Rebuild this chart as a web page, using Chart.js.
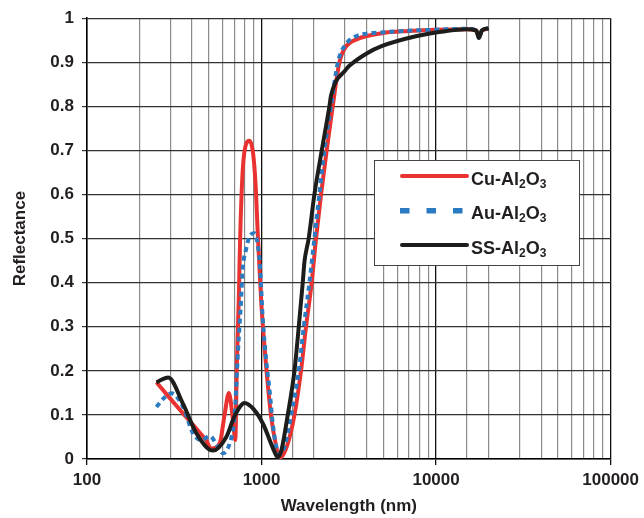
<!DOCTYPE html>
<html>
<head>
<meta charset="utf-8">
<script src="https://cdn.jsdelivr.net/npm/chart.js@4.4.0/dist/chart.umd.min.js"></script>
<style>
  body { margin: 0; background: #fff; }
  #wrap { width: 644px; height: 518px; }
</style>
</head>
<body>
<div id="wrap"><canvas id="chartReflectance"></canvas></div>
<script>
// Cu-Al2O3 (red)
var cuX = [250, 300, 363, 420, 480, 515, 575, 614, 650, 686, 707, 722, 740, 755, 781, 816, 853, 893, 925, 952, 995, 1064, 1136, 1214, 1267, 1400, 1544, 1683, 1798, 1937, 2052, 2192, 2361, 2556, 2794, 3050, 3500, 4900, 7000, 10000, 15000, 17000, 17600, 18300, 20000];
var cuY = [0.174, 0.137, 0.099, 0.07, 0.043, 0.024, 0.035, 0.10, 0.15, 0.088, 0.043, 0.215, 0.358, 0.509, 0.658, 0.715, 0.722, 0.696, 0.621, 0.509, 0.358, 0.208, 0.095, 0.028, 0.002, 0.03, 0.10, 0.20, 0.30, 0.40, 0.50, 0.60, 0.70, 0.80, 0.90, 0.936, 0.952, 0.966, 0.971, 0.974, 0.975, 0.972, 0.958, 0.972, 0.976];

// Au-Al2O3 (blue, dotted)
var auX = [250, 279, 305, 355, 405, 452, 505, 562, 601, 656, 700, 716, 733, 759, 781, 818, 854, 910, 975, 995, 1015, 1064, 1112, 1160, 1210, 1267, 1360, 1478, 1634, 1746, 1880, 2008, 2143, 2290, 2500, 2738, 3100, 3476, 5000, 10000, 15000, 17000, 17600, 18300, 20000];
var auY = [0.118, 0.14, 0.149, 0.118, 0.058, 0.043, 0.052, 0.028, 0.013, 0.035, 0.095, 0.163, 0.245, 0.343, 0.433, 0.478, 0.505, 0.512, 0.448, 0.388, 0.32, 0.223, 0.155, 0.08, 0.03, 0.01, 0.03, 0.10, 0.20, 0.30, 0.40, 0.50, 0.60, 0.70, 0.80, 0.90, 0.945, 0.959, 0.968, 0.974, 0.976, 0.972, 0.955, 0.972, 0.977];

// SS-Al2O3 (black)
var ssX = [250, 292, 355, 424, 527, 628, 700, 800, 900, 1019, 1214, 1239, 1300, 1413, 1544, 1634, 1722, 1762, 1862, 2008, 2213, 2448, 2500, 3050, 3184, 4000, 4913, 7660, 11000, 15000, 17000, 17600, 18300, 20000];
var ssY = [0.174, 0.185, 0.125, 0.058, 0.019, 0.05, 0.097, 0.127, 0.113, 0.08, 0.008, 0.004, 0.02, 0.10, 0.20, 0.30, 0.40, 0.448, 0.50, 0.60, 0.70, 0.80, 0.824, 0.884, 0.892, 0.92, 0.937, 0.959, 0.97, 0.975, 0.972, 0.955, 0.972, 0.977];

var xTicks = [100, 1000, 10000, 100000];

function toPoints(xs, ys) {
  return xs.map(function (x, i) {
    return { x: x, y: ys[i] };
  });
}

function isDecade(v) {
  var l = Math.log10(v);
  return Math.abs(l - Math.round(l)) < 1e-9;
}

var FONT = "'Liberation Sans', Arial, sans-serif";
var TEXT = "#231f20";

// legend drawn inside the plot, with subscripts
var boxLegend = {
  id: "boxLegend",
  afterDraw: function (chart) {
    var ctx = chart.ctx;
    ctx.save();
    ctx.fillStyle = "#fff";
    ctx.fillRect(374, 160, 205, 105);
    ctx.strokeStyle = "#444";
    ctx.lineWidth = 1;
    ctx.strokeRect(374.5, 160.5, 205, 105);

    ctx.lineCap = "round";
    ctx.lineWidth = 4;
    ctx.strokeStyle = "#ea3330";
    ctx.beginPath(); ctx.moveTo(402, 176); ctx.lineTo(467, 176); ctx.stroke();
    ctx.strokeStyle = "#1d1d1b";
    ctx.beginPath(); ctx.moveTo(402, 245); ctx.lineTo(467, 245); ctx.stroke();
    ctx.fillStyle = "#2b7bc2";
    [400, 426.5, 453].forEach(function (x) {
      ctx.fillRect(x, 208, 9.5, 5.5);
    });

    var names = ["Cu-Al", "Au-Al", "SS-Al"];
    var bases = [185, 219, 253.5];
    ctx.fillStyle = TEXT;
    ctx.textBaseline = "alphabetic";
    names.forEach(function (n, i) {
      var x = 471, y = bases[i];
      ctx.font = "bold 18px " + FONT;
      ctx.fillText(n, x, y);
      x += ctx.measureText(n).width;
      ctx.font = "bold 12px " + FONT;
      ctx.fillText("2", x, y + 3);
      x += ctx.measureText("2").width;
      ctx.font = "bold 18px " + FONT;
      ctx.fillText("O", x, y);
      x += ctx.measureText("O").width;
      ctx.font = "bold 12px " + FONT;
      ctx.fillText("3", x, y + 3);
    });
    ctx.restore();
  },
};

var ctxRefl = document.getElementById("chartReflectance").getContext("2d");

new Chart(ctxRefl, {
  type: "line",
  data: {
    datasets: [
      {
        label: "Cu-Al2O3",
        data: toPoints(cuX, cuY),
        borderColor: "#ea3330",
        borderWidth: 4,
        order: 2,
      },
      {
        label: "Au-Al2O3",
        data: toPoints(auX, auY),
        borderColor: "#2b7bc2",
        borderWidth: 4,
        borderDash: [5, 4],
        order: 1,
      },
      {
        label: "SS-Al2O3",
        data: toPoints(ssX, ssY),
        borderColor: "#1d1d1b",
        borderWidth: 4,
        order: 0,
      },
    ],
  },
  options: {
    responsive: true,
    maintainAspectRatio: false,
    animation: false,
    layout: { padding: { top: 15, right: 32, left: 0, bottom: 0 } },
    elements: {
      point: { radius: 0 },
      line: { cubicInterpolationMode: "monotone", fill: false },
    },
    plugins: {
      legend: { display: false },
      tooltip: { enabled: false },
    },
    scales: {
      x: {
        type: "logarithmic",
        min: 100,
        max: 100000,
        afterFit: function (scale) { scale.height = 59; },
        border: { color: "#000", width: 1.5 },
        grid: {
          color: function (c) {
            return c.tick && isDecade(c.tick.value) ? "#111" : "#8a8a8a";
          },
          lineWidth: function (c) {
            return c.tick && isDecade(c.tick.value) ? 1.3 : 1.2;
          },
          tickColor: function (c) {
            return c.tick && isDecade(c.tick.value) ? "#111" : "rgba(0,0,0,0)";
          },
          tickLength: 6,
        },
        ticks: {
          autoSkip: false,
          maxRotation: 0,
          padding: 5,
          color: TEXT,
          font: { family: FONT, size: 17, weight: "bold" },
          callback: function (v) {
            return xTicks.indexOf(v) >= 0 ? String(v) : "";
          },
        },
        title: {
          display: true,
          text: "Wavelength (nm)",
          color: TEXT,
          padding: { top: 0, bottom: 1 },
          font: { family: FONT, size: 17, weight: "bold" },
        },
      },
      y: {
        min: 0,
        max: 1,
        afterFit: function (scale) { scale.width = 87; },
        border: { color: "#000", width: 1.5 },
        grid: { color: "#333", lineWidth: 1.2, tickLength: 5 },
        ticks: {
          stepSize: 0.1,
          padding: 8,
          color: TEXT,
          font: { family: FONT, size: 17, weight: "bold" },
          callback: function (v) {
            if (v === 0) return "0";
            if (v === 1) return "1";
            return v.toFixed(1);
          },
        },
        title: {
          display: true,
          text: "Reflectance",
          color: TEXT,
          padding: { top: 10, bottom: 0 },
          font: { family: FONT, size: 17, weight: "bold" },
        },
      },
    },
  },
  plugins: [boxLegend],
});
</script>
</body>
</html>
